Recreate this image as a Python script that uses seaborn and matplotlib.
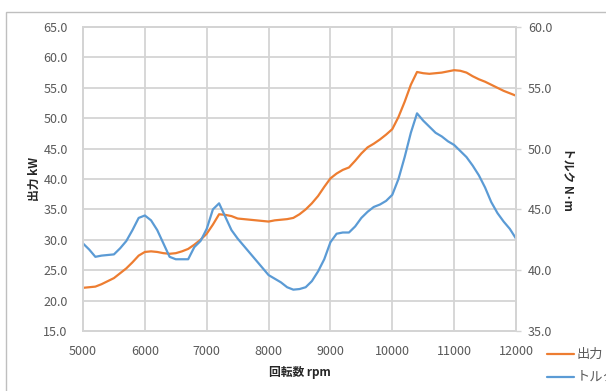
import numpy as np
import pandas as pd
import seaborn as sns
import matplotlib.pyplot as plt
from matplotlib.lines import Line2D
from matplotlib.patches import Rectangle
from matplotlib.ticker import FormatStrFormatter

rpm = list(range(5000, 12001, 100))

power_kw = [
    22.1, 22.2, 22.3, 22.7, 23.2, 23.7, 24.5, 25.3, 26.3, 27.4,
    28.0, 28.1, 28.0, 27.8, 27.7, 27.8, 28.1, 28.5, 29.2, 30.0,
    31.0, 32.5, 34.2, 34.1, 33.9, 33.5, 33.4, 33.3, 33.2, 33.1,
    33.0, 33.2, 33.3, 33.4, 33.6, 34.2, 35.0, 36.0, 37.2, 38.7,
    40.1, 40.9, 41.5, 41.9, 43.0, 44.2, 45.2, 45.8, 46.5, 47.3,
    48.2, 50.2, 52.7, 55.5, 57.6, 57.4, 57.3, 57.4, 57.5, 57.7,
    57.9, 57.8, 57.5, 56.9, 56.4, 56.0, 55.5, 55.0, 54.5, 54.1,
    53.7,
]

torque_nm = [
    42.2, 41.7, 41.1, 41.2, 41.25, 41.3, 41.8, 42.4, 43.3, 44.3,
    44.5, 44.1, 43.3, 42.2, 41.1, 40.9, 40.9, 40.9, 41.9, 42.4,
    43.4, 45.0, 45.5, 44.4, 43.3, 42.6, 42.0, 41.4, 40.8, 40.2,
    39.6, 39.3, 39.0, 38.6, 38.4, 38.45, 38.6, 39.1, 39.9, 40.9,
    42.3, 43.0, 43.1, 43.1, 43.6, 44.3, 44.8, 45.2, 45.4, 45.7,
    46.2, 47.5, 49.3, 51.3, 52.9, 52.3, 51.8, 51.3, 51.0, 50.6,
    50.3, 49.8, 49.3, 48.6, 47.8, 46.8, 45.6, 44.7, 44.0, 43.4,
    42.6,
]

series_names = ["出力", "トルク"]
x_label = "回転数 rpm"
y_left_label = "出力 kW"
y_right_label = "トルク N･m"

df = pd.DataFrame({"rpm": rpm, "power": power_kw, "torque": torque_nm})

sns.set_theme(style="whitegrid")
plt.rcParams["font.family"] = ["Noto Sans CJK JP", "DejaVu Sans"]

orange = "#ED7D31"
blue = "#5B9BD5"
grid_c = "#d4d4d4"
text_c = "#595959"

fig = plt.figure(figsize=(6.06, 3.91), dpi=100)
ax = fig.add_axes([83 / 606, 60 / 391, 433 / 606, 304 / 391])
ax2 = ax.twinx()

sns.lineplot(data=df, x="rpm", y="power", ax=ax, color=orange, linewidth=1.6)
sns.lineplot(data=df, x="rpm", y="torque", ax=ax2, color=blue, linewidth=1.6)

ax.set_xlim(5000, 12000)
ax.set_ylim(15, 65)
ax2.set_ylim(35, 60)
ax.set_xticks(range(5000, 12001, 1000))
ax.set_yticks(np.arange(15, 65.1, 5))
ax2.set_yticks(np.arange(35, 60.1, 5))
ax.yaxis.set_major_formatter(FormatStrFormatter("%.1f"))
ax2.yaxis.set_major_formatter(FormatStrFormatter("%.1f"))

ax.grid(True, color=grid_c, linewidth=1.3)
ax2.grid(False)
for a in (ax, ax2):
    for s in a.spines.values():
        s.set_color(grid_c)
        s.set_linewidth(1.3)

ax.tick_params(axis="y", length=0, pad=11, labelsize=9, labelcolor=text_c)
ax.tick_params(axis="x", length=0, pad=10, labelsize=9, labelcolor=text_c)
ax2.tick_params(axis="y", length=3.5, width=1, color=grid_c, pad=5,
                labelsize=9, labelcolor=text_c)

ax.set_xlabel(x_label, fontsize=8.5, fontweight="bold", labelpad=6)
ax.set_ylabel(y_left_label, fontsize=8.5, fontweight="bold", labelpad=2)
ax2.set_ylabel(y_right_label, fontsize=8.5, fontweight="bold", rotation=270,
               labelpad=16)

# outer chart frame (clipped at the image edge)
fig.add_artist(Rectangle((6 / 606, -0.2), 1.0, 379 / 391 + 0.2,
                         transform=fig.transFigure, fill=False,
                         edgecolor="#bfbfbf", linewidth=1.0))

handles = [Line2D([], [], color=orange, linewidth=1.6),
           Line2D([], [], color=blue, linewidth=1.6)]
leg = fig.legend(handles, series_names, loc="upper left",
                 bbox_to_anchor=(542 / 606, 1 - 343 / 391), frameon=False,
                 fontsize=9.5, handlelength=2.0, handletextpad=0.2,
                 labelspacing=0.75, borderaxespad=0)
for t in leg.get_texts():
    t.set_color(text_c)

fig.savefig("out.png", dpi=100)
